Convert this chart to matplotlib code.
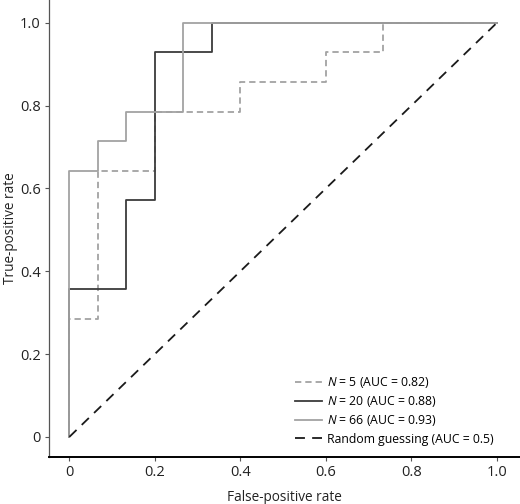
import numpy as np
import matplotlib
matplotlib.use("Agg")
import matplotlib.pyplot as plt

plt.rcParams['font.family'] = ['Open Sans', 'DejaVu Sans']
plt.rcParams['mathtext.fontset'] = 'custom'
plt.rcParams['mathtext.rm'] = 'Open Sans'
plt.rcParams['mathtext.it'] = 'Open Sans:italic'

# ROC vertices (15 negatives, 14 positives)
fpr5 = [0, 0, 1/15, 1/15, 3/15, 3/15, 6/15, 6/15, 9/15, 9/15, 11/15, 11/15, 1]
tpr5 = [0, 4/14, 4/14, 9/14, 9/14, 11/14, 11/14, 12/14, 12/14, 13/14, 13/14, 1, 1]

fpr20 = [0, 0, 2/15, 2/15, 3/15, 3/15, 5/15, 5/15, 1]
tpr20 = [0, 5/14, 5/14, 8/14, 8/14, 13/14, 13/14, 1, 1]

fpr66 = [0, 0, 1/15, 1/15, 2/15, 2/15, 4/15, 4/15, 1]
tpr66 = [0, 9/14, 9/14, 10/14, 10/14, 11/14, 11/14, 1, 1]

chance = [0, 1]

labels = [r"$N$ = 5 (AUC = 0.82)", r"$N$ = 20 (AUC = 0.88)",
          r"$N$ = 66 (AUC = 0.93)", "Random guessing (AUC = 0.5)"]
ticks = [0, 0.2, 0.4, 0.6, 0.8, 1.0]
tickLabels = ["0", "0.2", "0.4", "0.6", "0.8", "1.0"]

fig = plt.figure(figsize=(5.2, 5.04), dpi=100)
ax = fig.add_axes([0.094, 0.093, 0.906, 0.907])

ax.plot(fpr5, tpr5, color='#a3a3a3', lw=1.3, ls=(0, (3.5, 2.2)), label=labels[0])
ax.plot(fpr20, tpr20, color='#3c3c3c', lw=1.3, label=labels[1])
ax.plot(fpr66, tpr66, color='#a3a3a3', lw=1.3, label=labels[2])
ax.plot(chance, chance, color='#1a1a1a', lw=1.3, ls=(0, (5.5, 4)), label=labels[3])

ax.set_xlim(-0.048, 1.054)
ax.set_ylim(-0.049, 1.055)
ax.set_xticks(ticks)
ax.set_xticklabels(tickLabels)
ax.set_yticks(ticks)
ax.set_yticklabels(tickLabels)

for side in ['top', 'right']:
    ax.spines[side].set_visible(False)
ax.spines['left'].set_color('#555555')
ax.spines['left'].set_linewidth(0.9)
ax.spines['bottom'].set_color('black')
ax.spines['bottom'].set_linewidth(1.4)
ax.tick_params(axis='both', length=3, width=0.8, color='#555555',
               labelsize=10.5, labelcolor='#222222', pad=3)

ax.set_xlabel("False-positive rate", fontsize=9.8, color='#222222', labelpad=7)
ax.set_ylabel("True-positive rate", fontsize=9.8, color='#222222', labelpad=1)

ax.legend(loc='lower left', bbox_to_anchor=(0.522, 0.025), frameon=False,
          borderpad=0, borderaxespad=0,
          fontsize=8.8, handlelength=2.2, handletextpad=0.4, labelspacing=0.35)

fig.savefig("out.png", dpi=100)
